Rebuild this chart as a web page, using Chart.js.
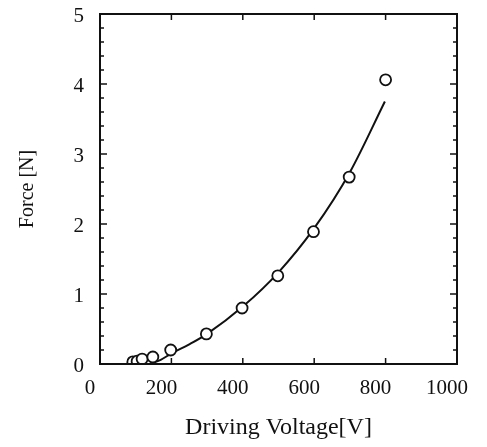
<!DOCTYPE html>
<html>
<head>
<meta charset="utf-8">
<script src="https://cdn.jsdelivr.net/npm/chart.js@4"></script>
<style>
  html, body { margin: 0; padding: 0; background: #fff; }
  #wrap { width: 487px; height: 447px; }
</style>
</head>
<body>
<div id="wrap"><canvas id="forceChart" width="487" height="447"></canvas></div>
<script>
// measured points (driving voltage V, force N)
const voltage = [92, 104, 118, 148, 198, 298, 398, 498, 598, 698, 800];
const force   = [0.03, 0.04, 0.07, 0.10, 0.20, 0.43, 0.80, 1.26, 1.89, 2.67, 4.06];

// fitted curve
const fitVoltage = [140, 170, 200, 250, 300, 400, 500, 600, 700, 798];
const fitForce   = [0.0, 0.06, 0.15, 0.28, 0.43, 0.82, 1.31, 1.94, 2.74, 3.75];

// tick marks
const xTicks      = [0, 200, 400, 600, 800, 1000];
const yTicks      = [0, 1, 2, 3, 4, 5];
const yMinorTicks = [0.2, 0.4, 0.6, 0.8, 1.2, 1.4, 1.6, 1.8, 2.2, 2.4, 2.6, 2.8,
                     3.2, 3.4, 3.6, 3.8, 4.2, 4.4, 4.6, 4.8];

const serif = "'Liberation Serif', 'DejaVu Serif', serif";
const ink = "#111";

// frame with inward ticks on all four sides
const framePlugin = {
  id: "frame",
  afterDraw(chart) {
    const { ctx, chartArea: a, scales: { x, y } } = chart;
    ctx.save();
    ctx.strokeStyle = ink;
    ctx.lineWidth = 2;
    ctx.strokeRect(a.left, a.top, a.right - a.left, a.bottom - a.top);
    ctx.lineWidth = 1.5;
    ctx.beginPath();
    xTicks.forEach(v => {
      const px = x.getPixelForValue(v);
      ctx.moveTo(px, a.bottom); ctx.lineTo(px, a.bottom - 6);
      ctx.moveTo(px, a.top);    ctx.lineTo(px, a.top + 6);
    });
    yTicks.forEach(v => {
      const py = y.getPixelForValue(v);
      ctx.moveTo(a.left, py);  ctx.lineTo(a.left + 7, py);
      ctx.moveTo(a.right, py); ctx.lineTo(a.right - 7, py);
    });
    yMinorTicks.forEach(v => {
      const py = y.getPixelForValue(v);
      ctx.moveTo(a.left, py);  ctx.lineTo(a.left + 4, py);
      ctx.moveTo(a.right, py); ctx.lineTo(a.right - 4, py);
    });
    ctx.stroke();
    ctx.restore();
  }
};

new Chart(document.getElementById("forceChart").getContext("2d"), {
  type: "scatter",
  data: {
    datasets: [
      {
        label: "measured",
        data: voltage.map((v, i) => ({ x: v, y: force[i] })),
        pointStyle: "circle",
        pointRadius: 5.5,
        pointBorderWidth: 1.8,
        pointBorderColor: ink,
        pointBackgroundColor: "#fff",
        showLine: false
      },
      {
        label: "fit",
        type: "line",
        data: fitVoltage.map((v, i) => ({ x: v, y: fitForce[i] })),
        borderColor: ink,
        borderWidth: 2,
        pointRadius: 0,
        cubicInterpolationMode: "monotone",
        fill: false
      }
    ]
  },
  options: {
    responsive: false,
    animation: false,
    layout: { padding: { top: 14, right: 30, left: 0, bottom: 0 } },
    plugins: { legend: { display: false }, tooltip: { enabled: false } },
    scales: {
      x: {
        type: "linear",
        min: 0, max: 1000,
        afterFit: s => { s.height = 83; s.paddingLeft = 0; s.paddingRight = 0; },
        afterBuildTicks: s => { s.ticks = xTicks.map(v => ({ value: v })); },
        grid: { display: false, drawTicks: false },
        border: { display: false },
        ticks: {
          color: ink, padding: 12, labelOffset: -10,
          callback: v => String(v),
          font: { family: serif, size: 21 }
        },
        title: {
          display: true, text: "Driving Voltage[V]", color: ink,
          font: { family: serif, size: 24 }, padding: { top: 0, bottom: 5 }
        }
      },
      y: {
        type: "linear",
        min: 0, max: 5,
        afterFit: s => { s.width = 100; s.paddingTop = 0; s.paddingBottom = 0; },
        afterBuildTicks: s => { s.ticks = yTicks.map(v => ({ value: v })); },
        grid: { display: false, drawTicks: false },
        border: { display: false },
        ticks: {
          color: ink, padding: 16, labelOffset: 2,
          callback: v => String(v),
          font: { family: serif, size: 21 }
        },
        title: {
          display: true, text: "Force [N]", color: ink,
          font: { family: serif, size: 20 }, padding: { top: 16, bottom: 0 }
        }
      }
    }
  },
  plugins: [framePlugin]
});
</script>
</body>
</html>
